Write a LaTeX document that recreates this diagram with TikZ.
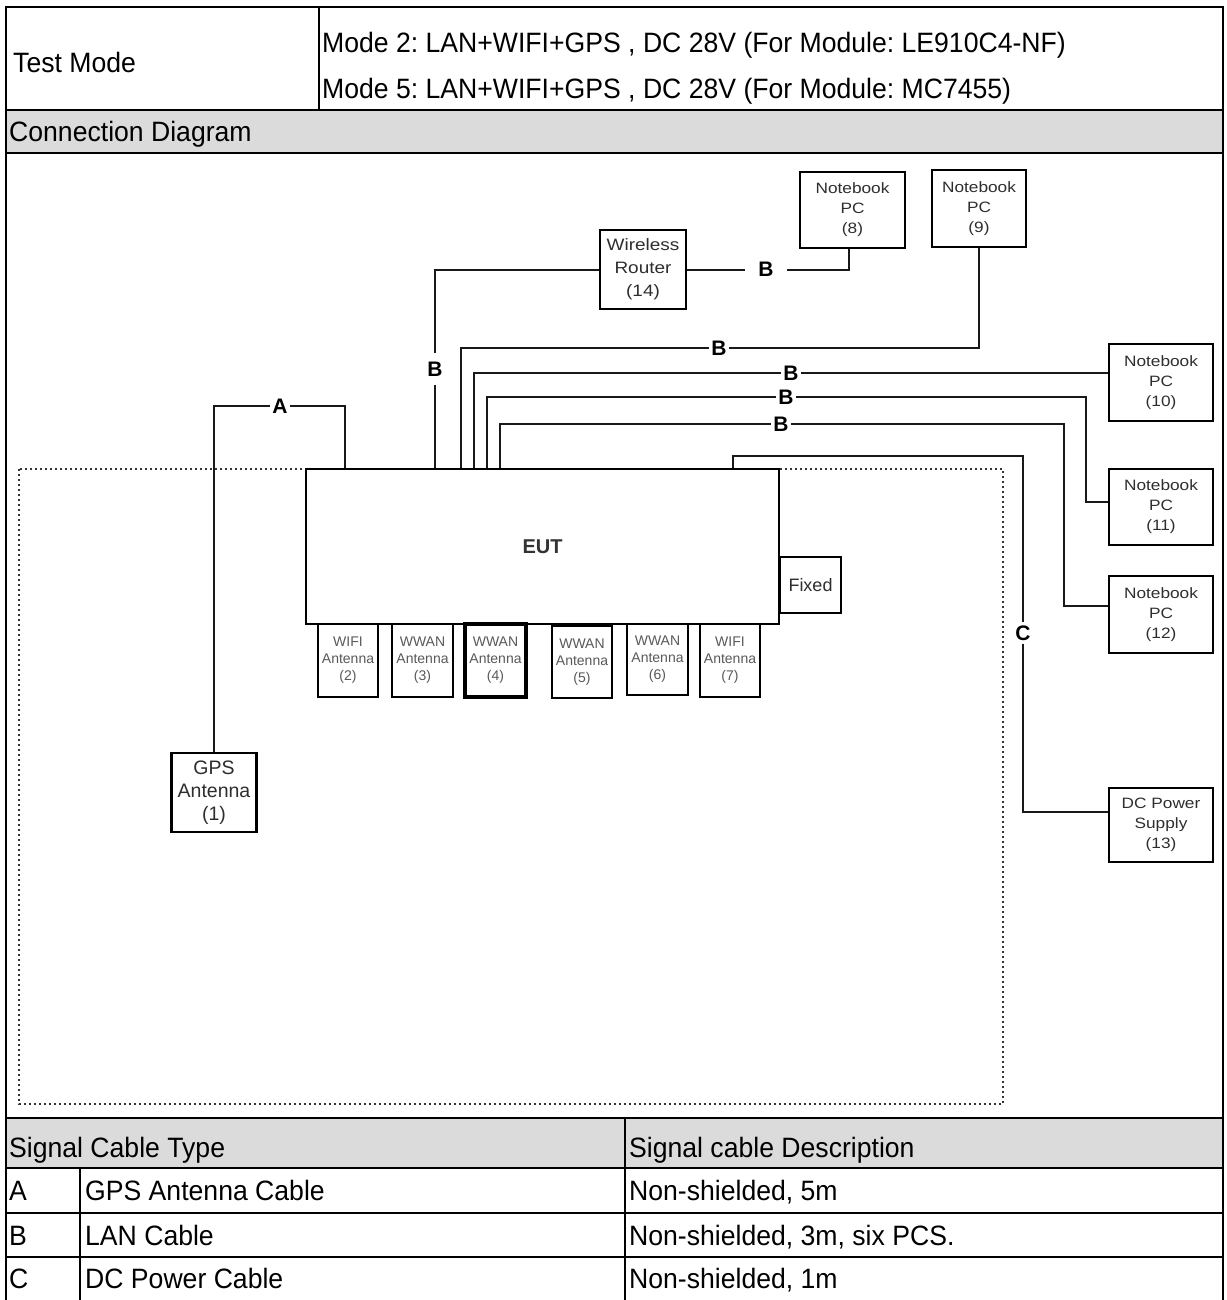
\documentclass[tikz,border=0pt]{standalone}
\usepackage{fontspec}
\setmainfont{Liberation Sans}
\newfontfamily\tabfont[FakeStretch=0.95]{Liberation Sans}
\newfontfamily\boxfont[FakeStretch=1.15]{Liberation Sans}
\frenchspacing
\begin{document}
\begin{tikzpicture}[x=1pt,y=-1pt,
  tline/.style={line width=2pt,black},
  tfill/.style={fill=black!14},
  ttext/.style={anchor=base west,inner sep=0pt,font=\tabfont\fontsize{28}{32}\selectfont},
  cable/.style={line width=2pt,black!90},
  bx/.style={draw=black,line width=2.4pt,fill=white,inner sep=0pt,align=center,text=black!82},
  nbfont/.style={font=\boxfont\fontsize{15}{20}\selectfont},
  rtfont/.style={font=\boxfont\fontsize{16.5}{23}\selectfont},
  antfont/.style={font=\fontsize{14}{17}\selectfont,text=black!65},
  lbl/.style={inner xsep=2pt,inner ysep=1pt,font=\bfseries\fontsize{21}{21}\selectfont},
]
\useasboundingbox (0,0) rectangle (1226,1300);

% ---------- table ----------
\fill[tfill] (6,110) rectangle (1223,153);
\fill[tfill] (6,1118) rectangle (1223,1168);
\draw[tline] (6,1300) -- (6,7) -- (1223,7) -- (1223,1300);
\draw[tline] (6,110) -- (1223,110);
\draw[tline] (6,153) -- (1223,153);
\draw[tline] (6,1118) -- (1223,1118);
\draw[tline] (6,1168) -- (1223,1168);
\draw[tline] (6,1213) -- (1223,1213);
\draw[tline] (6,1257) -- (1223,1257);
\draw[tline] (319,7) -- (319,110);
\draw[tline] (625,1118) -- (625,1300);
\draw[tline] (80,1168) -- (80,1300);

\node[ttext] (tm) at (13,73) {Test Mode};
\node[ttext] (m2) at (322,53) {Mode 2: LAN+WIFI+GPS , DC 28V (For Module: LE910C4-NF)};
\node[ttext] (m5) at (322,99) {Mode 5: LAN+WIFI+GPS , DC 28V (For Module: MC7455)};
\node[ttext] (cd) at (9,142) {Connection Diagram};
\node[ttext] (sct) at (9,1157) {Signal Cable Type};
\node[ttext] (scd) at (629,1157) {Signal cable Description};
\node[ttext] (ra) at (9,1200) {A};
\node[ttext] (rat) at (85,1200) {GPS Antenna Cable};
\node[ttext] (rad) at (629,1200) {Non-shielded, 5m};
\node[ttext] (rb) at (9,1245) {B};
\node[ttext] (rbt) at (85,1245) {LAN Cable};
\node[ttext] (rbd) at (629,1245) {Non-shielded, 3m, six PCS.};
\node[ttext] (rc) at (9,1288) {C};
\node[ttext] (rct) at (85,1288) {DC Power Cable};
\node[ttext] (rcd) at (629,1288) {Non-shielded, 1m};

% ---------- test area (dotted) ----------
\draw[line width=2.2pt,black!80,dash pattern=on 2pt off 3pt] (19,469) rectangle (1003,1104);

% ---------- boxes ----------
\node[bx,minimum width=473,minimum height=155,font=\bfseries\fontsize{20}{20}\selectfont,text=black!80] (eut) at (542.5,546.5) {EUT};
\node[bx,minimum width=61,minimum height=56,font=\fontsize{18}{18}\selectfont] (fixed) at (810.5,585) {Fixed};

\node[bx,antfont,minimum width=60,minimum height=73] (ant2) at (348,660.5) {WIFI\\Antenna\\(2)};
\node[bx,antfont,minimum width=61,minimum height=73] (ant3) at (422.5,660.5) {WWAN\\Antenna\\(3)};
\node[bx,antfont,line width=3.2pt,minimum width=61,minimum height=73] (ant4) at (495.5,660.5) {WWAN\\Antenna\\(4)};
\node[bx,antfont,minimum width=60,minimum height=72] (ant5) at (582,662) {WWAN\\Antenna\\(5)};
\node[bx,antfont,minimum width=61,minimum height=71] (ant6) at (657.5,659.5) {WWAN\\Antenna\\(6)};
\node[bx,antfont,minimum width=60,minimum height=73] (ant7) at (730,660.5) {WIFI\\Antenna\\(7)};

\node[bx,minimum width=85,minimum height=79,font=\fontsize{19.5}{23}\selectfont] (gps) at (214,792.5) {GPS\\Antenna\\(1)};
\node[bx,rtfont,minimum width=86,minimum height=79] (router) at (643,269.5) {Wireless\\Router\\(14)};
\node[bx,nbfont,minimum width=105,minimum height=76] (nb8) at (852.5,210) {Notebook\\PC\\(8)};
\node[bx,nbfont,minimum width=94,minimum height=77] (nb9) at (979,208.5) {Notebook\\PC\\(9)};
\node[bx,nbfont,minimum width=104,minimum height=77] (nb10) at (1161,382.5) {Notebook\\PC\\(10)};
\node[bx,nbfont,minimum width=104,minimum height=76] (nb11) at (1161,507) {Notebook\\PC\\(11)};
\node[bx,nbfont,minimum width=104,minimum height=77] (nb12) at (1161,614.5) {Notebook\\PC\\(12)};
\node[bx,nbfont,minimum width=104,minimum height=74] (dc) at (1161,825) {DC Power\\Supply\\(13)};

% ---------- cable labels ----------
\node[lbl] (labA) at (280,406) {A};
\node[lbl,inner ysep=9pt] (bR) at (435,369) {B};
\node[lbl,inner xsep=13pt] (bR2) at (766,269.5) {B};
\node[lbl] (b9) at (719,348) {B};
\node[lbl] (b10) at (791,373) {B};
\node[lbl] (b11) at (786,397) {B};
\node[lbl] (b12) at (781,424) {B};
\node[lbl,inner ysep=3pt] (labC) at (1023,633) {C};

% ---------- routing points ----------
\coordinate (xA) at (345,0);
\coordinate (xR) at (435,0);
\coordinate (x9) at (461,0);
\coordinate (x10) at (474,0);
\coordinate (x11) at (487,0);
\coordinate (x12) at (500,0);
\coordinate (xC) at (733,0);
\coordinate (x8) at (849,0);
\coordinate (yC) at (0,456);
\coordinate (k11) at (1086,502);
\coordinate (k12) at (1064,606);
\coordinate (kC) at (1023,812);

% ---------- cables ----------
\draw[cable] (xA |- eut.north) |- (labA);
\draw[cable] (labA) -| (gps.north);
\draw[cable] (xR |- eut.north) -- (bR);
\draw[cable] (bR) |- (router.west);
\draw[cable] (router.east) -- (bR2);
\draw[cable] (bR2) -| (x8 |- nb8.south);
\draw[cable] (x9 |- eut.north) |- (b9);
\draw[cable] (b9) -| (nb9.south);
\draw[cable,line width=2.8pt] (x10 |- eut.north) |- (b10);
\draw[cable,line width=2.8pt] (b10) -- (nb10.west |- b10);
\draw[cable] (x11 |- eut.north) |- (b11);
\draw[cable] (b11) -| (k11) -- (nb11.west |- k11);
\draw[cable] (x12 |- eut.north) |- (b12);
\draw[cable] (b12) -| (k12) -- (nb12.west |- k12);
\draw[cable] (xC |- eut.north) -- (xC |- yC) -| (labC);
\draw[cable] (labC) |- (dc.west |- kC);
\end{tikzpicture}
\end{document}
